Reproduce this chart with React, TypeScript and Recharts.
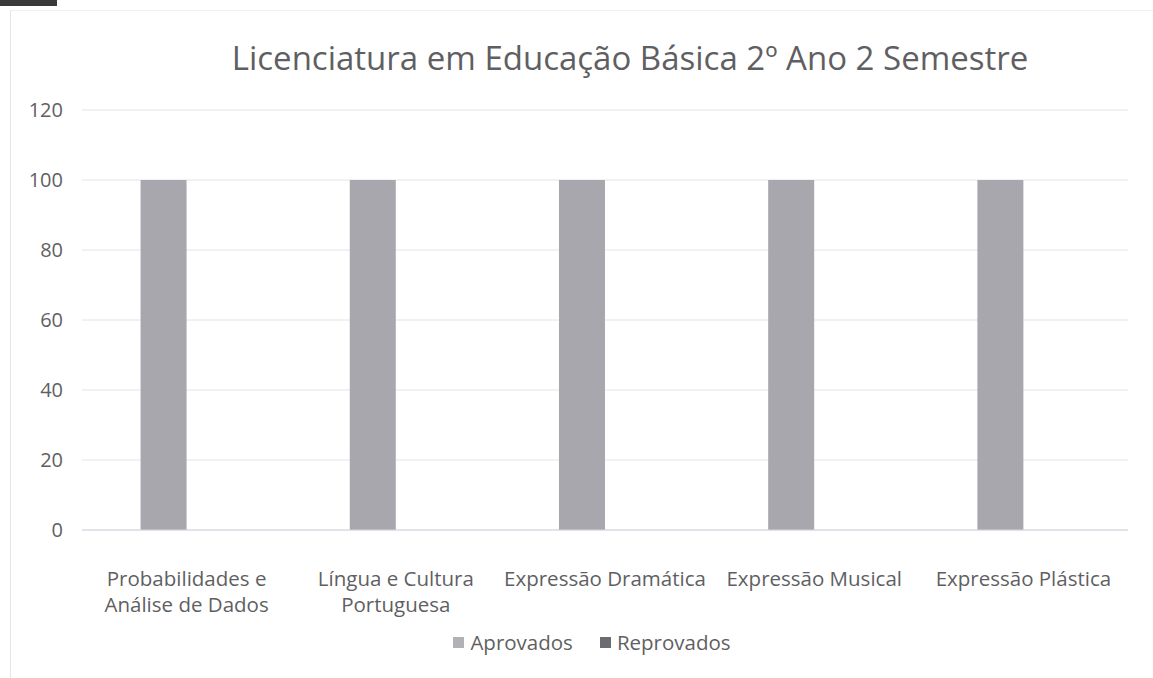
import React from 'react';
import { BarChart, Bar, XAxis, YAxis, CartesianGrid, Legend } from 'recharts';

const chartTitle = 'Licenciatura em Educação Básica 2º Ano 2 Semestre';
const categories = [
  'Probabilidades e Análise de Dados',
  'Língua e Cultura Portuguesa',
  'Expressão Dramática',
  'Expressão Musical',
  'Expressão Plástica',
];
// how each category label is broken on the axis
const categoryLines = [
  ['Probabilidades e', 'Análise de Dados'],
  ['Língua e Cultura', 'Portuguesa'],
  ['Expressão Dramática'],
  ['Expressão Musical'],
  ['Expressão Plástica'],
];
const aprovados = [100, 100, 100, 100, 100];
const reprovados = [0, 0, 0, 0, 0];
const yTicks = [0, 20, 40, 60, 80, 100, 120];

const data = categories.map((name, i) => ({
  name,
  Aprovados: aprovados[i],
  Reprovados: reprovados[i],
}));

const FONT = '"Open Sans", sans-serif';
const TEXT = '#5f5f63';

const CategoryTick = (props: any) => {
  const { x, y, index } = props;
  const lines = categoryLines[index] || [];
  return (
    <g transform={`translate(${x},${y})`}>
      {lines.map((l: string, i: number) => (
        <text key={i} x={0} y={i * 26} dy={48} textAnchor="middle" fill={TEXT} fontSize={20.5} fontFamily={FONT}>
          {l}
        </text>
      ))}
    </g>
  );
};

const renderLegend = (props: any) => {
  const { payload } = props;
  return (
    <div style={{ display: 'flex', justifyContent: 'center', paddingLeft: 56, fontFamily: FONT, fontSize: 20.5, color: TEXT }}>
      {(payload || []).map((p: any, i: number) => (
        <div key={i} style={{ display: 'flex', alignItems: 'center', marginRight: i === 0 ? 27 : 0 }}>
          <span style={{ display: 'inline-block', width: 11, height: 11, background: i === 0 ? '#b2b1b6' : '#6c6c70', marginRight: 6 }} />
          <span>{p.value}</span>
        </div>
      ))}
    </div>
  );
};

export default function App() {
  return (
    <div style={{ position: 'absolute', left: 0, top: 0, width: 1153, height: 678, background: '#fff', overflow: 'hidden' }}>
      <div style={{ position: 'absolute', left: 0, top: 0, width: 57, height: 6, background: '#3a3a3a' }} />
      <div style={{ position: 'absolute', left: 10, top: 10, width: 1150, height: 680, borderLeft: '1px solid #e6e6ea', borderTop: '1px solid #f0f0f3' }} />
      <div
        style={{
          position: 'absolute',
          left: 0,
          width: 1260,
          top: 35,
          textAlign: 'center',
          fontFamily: FONT,
          fontSize: 33,
          color: TEXT,
        }}
      >
        {chartTitle}
      </div>
      <div style={{ position: 'absolute', left: 0, top: 0 }}>
        <BarChart
          width={1153}
          height={678}
          data={data}
          margin={{ top: 110, right: 25, bottom: 0, left: 0 }}
          barCategoryGap="28%"
          barGap={0}
        >
          <CartesianGrid vertical={false} stroke="#e4e4ea" />
          <XAxis
            dataKey="name"
            height={98}
            interval={0}
            tickLine={false}
            axisLine={{ stroke: '#d4d4dc' }}
            tick={<CategoryTick />}
          />
          <YAxis
            width={82}
            domain={[0, 120]}
            ticks={yTicks}
            tickLine={false}
            axisLine={false}
            tickMargin={13}
            tick={{ fill: TEXT, fontSize: 20, fontFamily: FONT }}
          />
          <Legend verticalAlign="bottom" height={50} content={renderLegend} />
          <Bar dataKey="Aprovados" fill="#a8a7ad" isAnimationActive={false} />
          <Bar dataKey="Reprovados" fill="#6c6c70" isAnimationActive={false} />
        </BarChart>
      </div>
    </div>
  );
}
